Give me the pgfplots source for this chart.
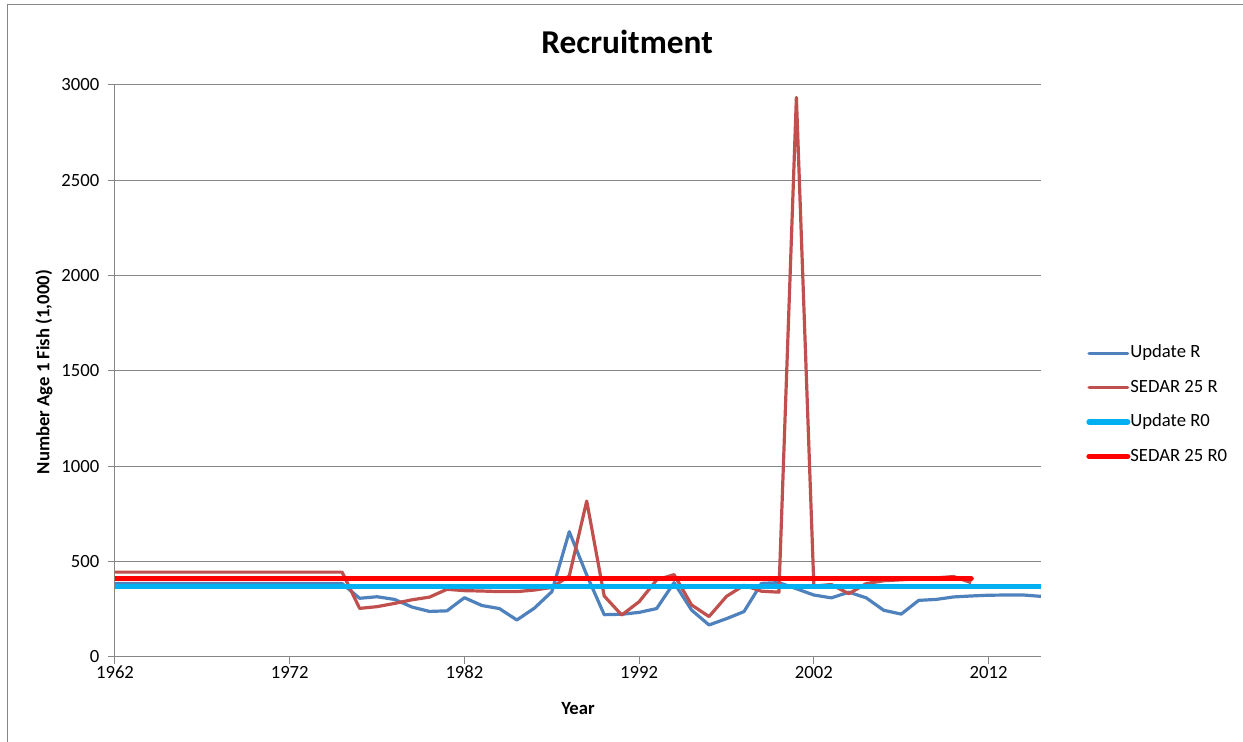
\documentclass[border=0pt]{standalone}
\usepackage{fontspec}
\setmainfont{Carlito}
\usepackage{pgfplots}
\usepackage{pgfplotstable}
\pgfplotsset{compat=1.18}

\definecolor{updR}{RGB}{79,129,189}
\definecolor{sedR}{RGB}{192,80,77}
\definecolor{updRzero}{RGB}{0,176,240}
\definecolor{sedRzero}{RGB}{255,0,0}
\definecolor{gridgray}{RGB}{134,134,134}

% Recruitment, number of age-1 fish (1,000)
\pgfplotstableread{
year updateR
1962 385
1963 385
1964 385
1965 385
1966 385
1967 385
1968 385
1969 385
1970 385
1971 385
1972 385
1973 385
1974 385
1975 385
1976 308
1977 316
1978 302
1979 262
1980 239
1981 242
1982 311
1983 270
1984 254
1985 194
1986 256
1987 342
1988 657
1989 430
1990 222
1991 224
1992 234
1993 254
1994 390
1995 246
1996 168
1997 201
1998 238
1999 386
2000 390
2001 358
2002 325
2003 310
2004 340
2005 310
2006 245
2007 225
2008 297
2009 302
2010 315
2011 320
2012 324
2013 325
2014 325
2015 318
}\updatetab

\pgfplotstableread{
year sedarR
1962 445
1963 445
1964 445
1965 445
1966 445
1967 445
1968 445
1969 445
1970 445
1971 445
1972 445
1973 445
1974 445
1975 445
1976 255
1977 264
1978 281
1979 300
1980 314
1981 355
1982 348
1983 346
1984 343
1985 343
1986 351
1987 365
1988 425
1989 818
1990 320
1991 220
1992 290
1993 404
1994 432
1995 273
1996 212
1997 318
1998 376
1999 345
2000 340
2001 2935
2002 372
2003 380
2004 332
2005 385
2006 400
2007 405
2008 410
2009 415
2010 422
2011 390
}\sedartab

\begin{document}
\begin{tikzpicture}
\useasboundingbox (0,0) rectangle (932.25pt,556.5pt);
% chart area border
\draw[color=gridgray, line width=0.75pt] (5.25pt,-2pt) -- (5.25pt,552.75pt) -- (940pt,552.75pt);
\begin{axis}[
  at={(86.25pt,63.75pt)}, anchor=south west,
  width=694.5pt, height=429pt, scale only axis,
  xmin=1962, xmax=2015, ymin=0, ymax=3000,
  xtick={1962,1972,1982,1992,2002,2012},
  xticklabels={1962,1972,1982,1992,2002,2012},
  ytick={0,500,1000,1500,2000,2500,3000},
  axis x line*=bottom, axis y line*=left,
  axis line style={-, color=gridgray, line width=0.75pt},
  tick align=outside, major tick length=5.25pt,
  tick style={color=gridgray, line width=0.75pt},
  ymajorgrids, grid style={color=gridgray, line width=0.75pt},
  /pgf/number format/assume math mode=true,
  /pgf/number format/1000 sep={},
  ticklabel style={font=\fontsize{14}{16}\selectfont},
  yticklabel style={xshift=-3pt},
  xticklabel style={anchor=north, text height=9.5pt, text depth=0pt, yshift=2.5pt},
  xlabel={Year}, ylabel={Number Age 1 Fish (1,000)},
  label style={font=\bfseries\fontsize{14}{16}\selectfont},
  xlabel style={at={(axis description cs:0.5,-0.0909)}, anchor=center},
  ylabel style={at={(axis description cs:-0.0767,0.498)}, anchor=center},
  title={Recruitment},
  title style={font=\bfseries\fontsize{25}{30}\selectfont, at={(axis description cs:0.553,1.061)}, anchor=center},
  legend style={at={(axis description cs:1.0487,0.5467)}, anchor=north west,
    draw=none, fill=none, inner sep=0pt,
    font=\fontsize{14}{16}\selectfont,
    nodes={inner sep=0pt, text height=10pt, text depth=3pt},
    row sep=12.8pt, column sep=0pt},
  legend cell align=left,
  legend image code/.code={\draw[#1, line cap=round] (0pt,0pt) -- (29pt,0pt);},
  every axis plot/.append style={line join=round, no marks},
]
\addplot[color=updR, line width=2.4pt] table[x=year, y=updateR] {\updatetab};
\addlegendentry{Update R}
\addplot[color=sedR, line width=2.4pt] table[x=year, y=sedarR] {\sedartab};
\addlegendentry{SEDAR 25 R}
\addplot[color=updRzero, line width=4pt] coordinates {(1962,370) (2015,370)};
\addlegendentry{Update R0}
\addplot[color=sedRzero, line width=4pt, line cap=round] coordinates {(1962,410) (2011,410)};
\addlegendentry{SEDAR 25 R0}
\end{axis}
\end{tikzpicture}
\end{document}
